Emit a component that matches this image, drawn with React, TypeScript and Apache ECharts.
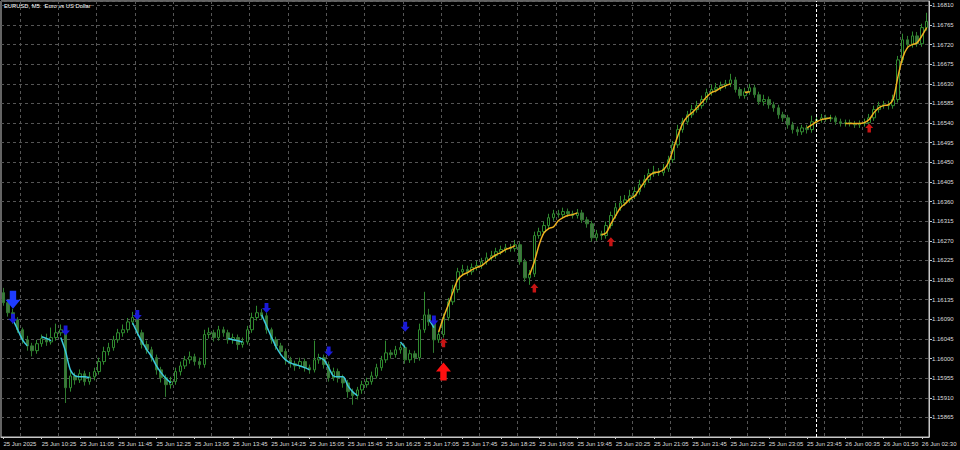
import React, { useEffect, useRef } from "react";
import * as echarts from "echarts";

const chartTitle = "EURUSD, M5:  Euro vs US Dollar";

const tickLabels = [
  "25 Jun 2025", "25 Jun 10:25", "25 Jun 11:05", "25 Jun 11:45", "25 Jun 12:25",
  "25 Jun 13:05", "25 Jun 13:45", "25 Jun 14:25", "25 Jun 15:05", "25 Jun 15:45",
  "25 Jun 16:25", "25 Jun 17:05", "25 Jun 17:45", "25 Jun 18:25", "25 Jun 19:05",
  "25 Jun 19:45", "25 Jun 20:25", "25 Jun 21:05", "25 Jun 21:45", "25 Jun 22:25",
  "25 Jun 23:05", "25 Jun 23:45", "26 Jun 00:35", "26 Jun 01:50", "26 Jun 02:30",
];

const opens = [
  1.16151, 1.16128, 1.16105, 1.16089, 1.16066, 1.16043, 1.16029, 1.16018, 1.16034, 1.16046,
  1.16038, 1.16048, 1.16059, 1.16066, 1.15933, 1.15960, 1.15951, 1.15965, 1.15947, 1.15958,
  1.15970, 1.15993, 1.16016, 1.16025, 1.16043, 1.16059, 1.16066, 1.16084, 1.16094, 1.16059,
  1.16032, 1.16020, 1.16002, 1.15974, 1.15956, 1.15940, 1.15947, 1.15970, 1.15983, 1.15997,
  1.16004, 1.15993, 1.15986, 1.16055, 1.16059, 1.16048, 1.16066, 1.16059, 1.16043, 1.16048,
  1.16032, 1.16038, 1.16066, 1.16094, 1.16105, 1.16098, 1.16066, 1.16043, 1.16029, 1.16016,
  1.15997, 1.15988, 1.15983, 1.15993, 1.15979, 1.15974, 1.15997, 1.16002, 1.15986, 1.15956,
  1.15970, 1.15956, 1.15944, 1.15924, 1.15915, 1.15928, 1.15940, 1.15947, 1.15960, 1.15979,
  1.15997, 1.16013, 1.16009, 1.16020, 1.16025, 1.15997, 1.16011, 1.16002, 1.16066, 1.16100,
  1.16084, 1.16043, 1.16055, 1.16094, 1.16130, 1.16158, 1.16199, 1.16204, 1.16199, 1.16209,
  1.16213, 1.16222, 1.16231, 1.16236, 1.16245, 1.16250, 1.16254, 1.16252, 1.16261, 1.16222,
  1.16185, 1.16194, 1.16282, 1.16291, 1.16305, 1.16323, 1.16332, 1.16330, 1.16337, 1.16332,
  1.16328, 1.16334, 1.16318, 1.16309, 1.16277, 1.16286, 1.16282, 1.16305, 1.16328, 1.16346,
  1.16357, 1.16364, 1.16373, 1.16383, 1.16399, 1.16410, 1.16424, 1.16428, 1.16426, 1.16435,
  1.16456, 1.16490, 1.16525, 1.16543, 1.16559, 1.16571, 1.16580, 1.16594, 1.16610, 1.16617,
  1.16621, 1.16626, 1.16630, 1.16639, 1.16617, 1.16603, 1.16612, 1.16621, 1.16605, 1.16589,
  1.16594, 1.16582, 1.16575, 1.16559, 1.16552, 1.16536, 1.16525, 1.16520, 1.16529, 1.16525,
  1.16543, 1.16548, 1.16552, 1.16550, 1.16552, 1.16543, 1.16539, 1.16541, 1.16539, 1.16536,
  1.16539, 1.16541, 1.16552, 1.16571, 1.16580, 1.16582, 1.16580, 1.16594, 1.16685, 1.16731,
  1.16720, 1.16740, 1.16722, 1.16759,
];

const closes = [
  1.16128, 1.16105, 1.16089, 1.16066, 1.16043, 1.16029, 1.16018, 1.16034, 1.16046, 1.16038,
  1.16048, 1.16059, 1.16066, 1.15933, 1.15960, 1.15951, 1.15965, 1.15947, 1.15958, 1.15970,
  1.15993, 1.16016, 1.16025, 1.16043, 1.16059, 1.16066, 1.16084, 1.16094, 1.16059, 1.16032,
  1.16020, 1.16002, 1.15974, 1.15956, 1.15940, 1.15947, 1.15970, 1.15983, 1.15997, 1.16004,
  1.15993, 1.15986, 1.16055, 1.16059, 1.16048, 1.16066, 1.16059, 1.16043, 1.16048, 1.16032,
  1.16038, 1.16066, 1.16094, 1.16105, 1.16098, 1.16066, 1.16043, 1.16029, 1.16016, 1.15997,
  1.15988, 1.15983, 1.15993, 1.15979, 1.15974, 1.15997, 1.16002, 1.15986, 1.15956, 1.15970,
  1.15956, 1.15944, 1.15924, 1.15915, 1.15928, 1.15940, 1.15947, 1.15960, 1.15979, 1.15997,
  1.16013, 1.16009, 1.16020, 1.16025, 1.15997, 1.16011, 1.16002, 1.16066, 1.16100, 1.16084,
  1.16043, 1.16055, 1.16094, 1.16130, 1.16158, 1.16199, 1.16204, 1.16199, 1.16209, 1.16213,
  1.16222, 1.16231, 1.16236, 1.16245, 1.16250, 1.16254, 1.16252, 1.16261, 1.16222, 1.16185,
  1.16194, 1.16282, 1.16291, 1.16305, 1.16323, 1.16332, 1.16330, 1.16337, 1.16332, 1.16328,
  1.16334, 1.16318, 1.16309, 1.16277, 1.16286, 1.16282, 1.16305, 1.16328, 1.16346, 1.16357,
  1.16364, 1.16373, 1.16383, 1.16399, 1.16410, 1.16424, 1.16428, 1.16426, 1.16435, 1.16456,
  1.16490, 1.16525, 1.16543, 1.16559, 1.16571, 1.16580, 1.16594, 1.16610, 1.16617, 1.16621,
  1.16626, 1.16630, 1.16639, 1.16617, 1.16603, 1.16612, 1.16621, 1.16605, 1.16589, 1.16594,
  1.16582, 1.16575, 1.16559, 1.16552, 1.16536, 1.16525, 1.16520, 1.16529, 1.16525, 1.16543,
  1.16548, 1.16552, 1.16550, 1.16552, 1.16543, 1.16539, 1.16541, 1.16539, 1.16536, 1.16539,
  1.16541, 1.16552, 1.16571, 1.16580, 1.16582, 1.16580, 1.16594, 1.16685, 1.16731, 1.16720,
  1.16740, 1.16722, 1.16759, 1.16773,
];

const lows = [
  1.16121, 1.16096, 1.16080, 1.16059, 1.16034, 1.16018, 1.16005, 1.16011, 1.16027, 1.16029,
  1.16032, 1.16041, 1.16052, 1.15898, 1.15924, 1.15940, 1.15944, 1.15938, 1.15940, 1.15950,
  1.15963, 1.15986, 1.16007, 1.16018, 1.16036, 1.16050, 1.16059, 1.16077, 1.16052, 1.16023,
  1.16011, 1.15993, 1.15963, 1.15945, 1.15912, 1.15931, 1.15940, 1.15961, 1.15976, 1.15988,
  1.15984, 1.15977, 1.15979, 1.16046, 1.16039, 1.16041, 1.16050, 1.16034, 1.16034, 1.16020,
  1.16025, 1.16032, 1.16059, 1.16087, 1.16089, 1.16057, 1.16034, 1.16020, 1.16007, 1.15986,
  1.15979, 1.15972, 1.15976, 1.15970, 1.15965, 1.15968, 1.15988, 1.15977, 1.15947, 1.15949,
  1.15945, 1.15933, 1.15910, 1.15894, 1.15906, 1.15919, 1.15933, 1.15940, 1.15954, 1.15972,
  1.15990, 1.16000, 1.16002, 1.16011, 1.15988, 1.15990, 1.15990, 1.15995, 1.16059, 1.16075,
  1.16013, 1.16036, 1.16048, 1.16087, 1.16123, 1.16151, 1.16190, 1.16190, 1.16192, 1.16202,
  1.16206, 1.16215, 1.16224, 1.16229, 1.16238, 1.16243, 1.16245, 1.16245, 1.16215, 1.16176,
  1.16169, 1.16187, 1.16275, 1.16284, 1.16298, 1.16316, 1.16323, 1.16323, 1.16325, 1.16321,
  1.16321, 1.16311, 1.16300, 1.16268, 1.16270, 1.16272, 1.16275, 1.16298, 1.16321, 1.16339,
  1.16350, 1.16357, 1.16366, 1.16376, 1.16392, 1.16403, 1.16417, 1.16419, 1.16419, 1.16428,
  1.16449, 1.16483, 1.16518, 1.16536, 1.16552, 1.16564, 1.16573, 1.16587, 1.16603, 1.16610,
  1.16614, 1.16619, 1.16623, 1.16610, 1.16596, 1.16596, 1.16605, 1.16598, 1.16582, 1.16580,
  1.16573, 1.16566, 1.16550, 1.16543, 1.16527, 1.16516, 1.16511, 1.16513, 1.16516, 1.16518,
  1.16536, 1.16541, 1.16543, 1.16543, 1.16536, 1.16532, 1.16532, 1.16532, 1.16529, 1.16529,
  1.16532, 1.16534, 1.16545, 1.16564, 1.16573, 1.16571, 1.16573, 1.16587, 1.16678, 1.16710,
  1.16713, 1.16715, 1.16715, 1.16752,
];

const highs = [
  1.16162, 1.16135, 1.16114, 1.16095, 1.16071, 1.16052, 1.16036, 1.16043, 1.16055, 1.16057,
  1.16071, 1.16080, 1.16078, 1.16073, 1.15972, 1.15968, 1.15975, 1.15972, 1.15969, 1.15979,
  1.16002, 1.16027, 1.16036, 1.16052, 1.16068, 1.16078, 1.16093, 1.16107, 1.16100, 1.16066,
  1.16041, 1.16027, 1.16009, 1.15981, 1.15963, 1.15958, 1.15979, 1.15993, 1.16006, 1.16016,
  1.16011, 1.16002, 1.16066, 1.16071, 1.16066, 1.16075, 1.16073, 1.16066, 1.16057, 1.16055,
  1.16048, 1.16075, 1.16105, 1.16121, 1.16114, 1.16105, 1.16071, 1.16050, 1.16036, 1.16023,
  1.16004, 1.15995, 1.16002, 1.16000, 1.15986, 1.16041, 1.16011, 1.16009, 1.15993, 1.15979,
  1.15977, 1.15963, 1.15951, 1.15931, 1.15935, 1.15949, 1.15956, 1.15970, 1.15988, 1.16006,
  1.16041, 1.16020, 1.16029, 1.16034, 1.16032, 1.16020, 1.16018, 1.16080, 1.16153, 1.16114,
  1.16089, 1.16064, 1.16103, 1.16139, 1.16169, 1.16208, 1.16215, 1.16213, 1.16218, 1.16224,
  1.16231, 1.16243, 1.16247, 1.16254, 1.16259, 1.16263, 1.16263, 1.16272, 1.16268, 1.16229,
  1.16203, 1.16291, 1.16300, 1.16314, 1.16332, 1.16341, 1.16341, 1.16346, 1.16344, 1.16339,
  1.16343, 1.16341, 1.16325, 1.16316, 1.16295, 1.16293, 1.16314, 1.16337, 1.16357, 1.16373,
  1.16375, 1.16387, 1.16394, 1.16410, 1.16421, 1.16435, 1.16442, 1.16437, 1.16446, 1.16465,
  1.16499, 1.16536, 1.16552, 1.16568, 1.16582, 1.16591, 1.16603, 1.16619, 1.16628, 1.16632,
  1.16635, 1.16639, 1.16653, 1.16646, 1.16623, 1.16621, 1.16630, 1.16628, 1.16612, 1.16605,
  1.16601, 1.16589, 1.16582, 1.16566, 1.16559, 1.16543, 1.16532, 1.16536, 1.16536, 1.16557,
  1.16557, 1.16561, 1.16559, 1.16559, 1.16557, 1.16550, 1.16548, 1.16548, 1.16545, 1.16546,
  1.16550, 1.16561, 1.16580, 1.16589, 1.16591, 1.16591, 1.16605, 1.16694, 1.16745, 1.16740,
  1.16750, 1.16749, 1.16768, 1.16793,
];

// trend line segments: [bar index, price]
const cyanSegments = [
  [[2, 1.16089], [3, 1.16066], [4, 1.16043], [5, 1.16029]],
  [[8, 1.1605], [9, 1.16046], [10, 1.16041]],
  [[12, 1.16048], [13, 1.16016], [14, 1.15974], [15, 1.1596], [16, 1.15958], [17, 1.15958], [18, 1.15956]],
  [[27, 1.16082], [28, 1.16059], [29, 1.16038], [30, 1.1602], [31, 1.16004], [32, 1.15983], [33, 1.15967], [34, 1.15954], [35, 1.15944]],
  [[47, 1.16046], [48, 1.16043], [49, 1.16041], [50, 1.16038]],
  [[54, 1.161], [55, 1.16075], [56, 1.1605], [57, 1.16027], [58, 1.16009], [59, 1.15997], [60, 1.1599], [61, 1.15986], [62, 1.15983], [63, 1.15979], [64, 1.15974]],
  [[66, 1.16002], [67, 1.15997], [68, 1.15979], [69, 1.1596], [70, 1.15958], [71, 1.15958], [72, 1.15938], [73, 1.15924], [74, 1.15915]],
  [[83, 1.16038], [84, 1.16025]],
  [[89, 1.16089], [90, 1.16071]],
];

const yellowSegments = [
  [[91, 1.16061], [92, 1.16094], [93, 1.16123], [94, 1.16153], [95, 1.16181], [96, 1.16192], [97, 1.16197], [98, 1.16204], [99, 1.16209], [100, 1.16213], [101, 1.16222], [102, 1.16231], [103, 1.16238], [104, 1.16243], [105, 1.1625], [106, 1.16254], [107, 1.16259]],
  [[110, 1.16192], [111, 1.16222], [112, 1.16261], [113, 1.16288], [114, 1.16298], [115, 1.16302], [116, 1.16316], [117, 1.16323], [118, 1.16328], [119, 1.1633], [120, 1.16334]],
  [[125, 1.16284], [126, 1.16288], [127, 1.16309], [128, 1.16328], [129, 1.16346], [130, 1.16355], [131, 1.16366], [132, 1.16373], [133, 1.16389], [134, 1.16405], [135, 1.16419], [136, 1.16426], [137, 1.16428], [138, 1.16433], [139, 1.16449], [140, 1.16479], [141, 1.16511], [142, 1.16539], [143, 1.16555], [144, 1.16564], [145, 1.16575], [146, 1.16587], [147, 1.166], [148, 1.1661], [149, 1.16614], [150, 1.16621], [151, 1.16626], [152, 1.1663]],
  [[155, 1.1661], [156, 1.16612]],
  [[168, 1.16529], [169, 1.16536], [170, 1.16543], [171, 1.16548], [172, 1.1655], [173, 1.16552]],
  [[176, 1.16539], [177, 1.16539], [178, 1.16539], [179, 1.16539], [180, 1.16541], [181, 1.16548], [182, 1.16564], [183, 1.16575], [184, 1.1658], [185, 1.16582], [186, 1.16594], [187, 1.16646], [188, 1.1669], [189, 1.16713], [190, 1.1672], [191, 1.16724], [192, 1.1674], [193, 1.16759]],
];

const bigSellArrows = [[2, 1.16135]];
const sellArrows = [[2, 1.16091], [13, 1.16064], [28, 1.161], [55, 1.16116], [68, 1.16016], [84, 1.16073], [90, 1.16087]];
const buyArrows = [[92, 1.16036], [111, 1.16162], [127, 1.16268], [181, 1.16529]];
const bigBuyArrows = [[92, 1.1597]];

const daySeparatorBar = 170;

const DOWN_ARROW = "path://M4,0 L10,0 L10,8 L14,8 L7,16 L0,8 L4,8 Z";
const UP_ARROW = "path://M7,0 L14,8 L10,8 L10,16 L4,16 L4,8 L0,8 Z";

const FONT = "'Liberation Sans', Arial, sans-serif";

export default function App() {
  const ref = useRef<HTMLDivElement>(null);

  useEffect(() => {
    if (!ref.current) return;
    const chart = echarts.init(ref.current, undefined, { renderer: "svg" });
    const categories = closes.map((_, i) => String(i));
    const candles = closes.map((c, i) => [opens[i], c, lows[i], highs[i]]);

    const lineSeries = (segs: number[][][], color: string) =>
      segs.map((seg) => ({
        type: "line",
        data: seg,
        showSymbol: false,
        smooth: 0.3,
        silent: true,
        lineStyle: { color, width: 1.5 },
        z: 5,
      }));

    const arrowSeries = (data: number[][], symbol: string, size: number[], color: string) => ({
      type: "scatter",
      data,
      symbol,
      symbolSize: size,
      silent: true,
      itemStyle: { color, opacity: 1 },
      z: 6,
    });

    chart.setOption({
      animation: false,
      backgroundColor: "#000000",
      textStyle: { fontFamily: FONT },
      title: {
        text: chartTitle,
        left: 4,
        top: 3,
        padding: 0,
        textStyle: { color: "#ffffff", fontSize: 5.8, fontWeight: "normal", fontFamily: FONT },
      },
      grid: {
        left: 1,
        top: 1,
        right: 31,
        bottom: 13,
        show: true,
        borderColor: "#c8c8c8",
        borderWidth: 1,
      },
      xAxis: {
        type: "category",
        data: categories,
        boundaryGap: true,
        axisLine: { show: true, lineStyle: { color: "#c8c8c8", width: 1 } },
        axisTick: {
          show: true,
          alignWithLabel: true,
          length: 2,
          interval: (i: number) => i % 8 === 0,
          lineStyle: { color: "#c8c8c8" },
        },
        axisLabel: {
          interval: (i: number) => i % 8 === 0,
          formatter: (_v: string, i: number) => tickLabels[i / 8] ?? "",
          align: "left",
          color: "#dddddd",
          fontSize: 6,
          margin: 4,
          showMinLabel: true,
          showMaxLabel: true,
          fontFamily: FONT,
        },
        splitLine: {
          show: true,
          interval: (i: number) => i % 8 === 4,
          lineStyle: { color: "#555555", type: [3, 3], width: 1 },
        },
      },
      yAxis: {
        type: "value",
        position: "right",
        min: 1.1582,
        max: 1.1682,
        interval: 0.00045,
        scale: true,
        axisLine: { show: true, lineStyle: { color: "#c8c8c8", width: 1 } },
        axisTick: { show: true, length: 3, lineStyle: { color: "#c8c8c8" } },
        axisLabel: {
          formatter: (v: number) => v.toFixed(5),
          color: "#dddddd",
          fontSize: 6,
          margin: 3,
          showMinLabel: false,
          showMaxLabel: false,
          fontFamily: FONT,
        },
        splitLine: { show: true, lineStyle: { color: "#555555", type: [3, 3], width: 1 } },
      },
      series: [
        {
          type: "candlestick",
          data: candles,
          barWidth: 3,
          silent: true,
          itemStyle: {
            color: "#000000",
            borderColor: "#2f8a2f",
            color0: "#427542",
            borderColor0: "#2f7a2f",
            borderWidth: 1,
          },
          markLine: {
            silent: true,
            symbol: "none",
            label: { show: false },
            lineStyle: { color: "#ffffff", type: [3, 2], width: 1 },
            data: [{ xAxis: daySeparatorBar }],
          },
        },
        ...lineSeries(cyanSegments, "#3cc8dc"),
        ...lineSeries(yellowSegments, "#f0b020"),
        arrowSeries(bigSellArrows, DOWN_ARROW, [15, 18], "#1e3cff"),
        arrowSeries(sellArrows, DOWN_ARROW, [9, 10], "#1a1ad8"),
        arrowSeries(buyArrows, UP_ARROW, [8, 9], "#c81414"),
        arrowSeries(bigBuyArrows, UP_ARROW, [15, 18], "#ff1010"),
      ],
    });

    return () => chart.dispose();
  }, []);

  return (
    <div
      ref={ref}
      style={{ position: "fixed", left: 0, top: 0, width: 960, height: 450, background: "#000" }}
    />
  );
}
